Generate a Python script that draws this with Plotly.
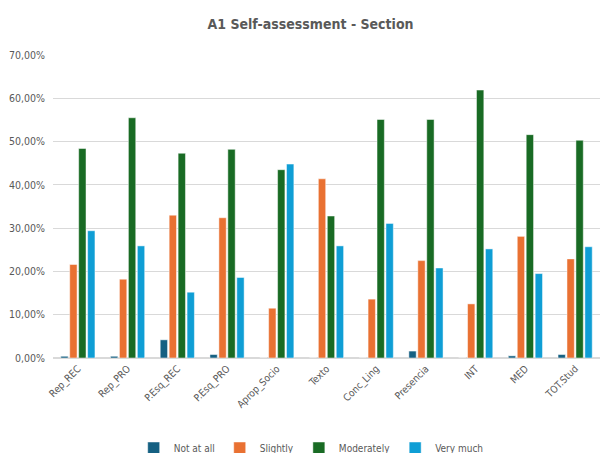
import plotly.graph_objects as go

categories = ["Rep_REC", "Rep_PRO", "P.Esq_REC", "P.Esq_PRO", "Aprop_Socio", "Texto",
              "Conc_Ling", "Presencia", "INT", "MED", "TOT.Stud"]
not_at_all = [0.004, 0.004, 0.042, 0.008, 0.0, 0.0, 0.0, 0.016, 0.0, 0.005, 0.008]
slightly = [0.216, 0.182, 0.330, 0.324, 0.115, 0.414, 0.136, 0.225, 0.125, 0.281, 0.229]
moderately = [0.484, 0.555, 0.473, 0.482, 0.435, 0.328, 0.551, 0.551, 0.619, 0.516, 0.503]
very_much = [0.294, 0.259, 0.152, 0.186, 0.448, 0.259, 0.311, 0.208, 0.252, 0.195, 0.257]

series = [("Not at all", not_at_all, "#156082"),
          ("Slightly", slightly, "#E97132"),
          ("Moderately", moderately, "#196B24"),
          ("Very much", very_much, "#0F9ED5")]

font_family = "DejaVu Sans Condensed, Liberation Sans Narrow, sans-serif"
grey = "#595959"

fig = go.Figure()
for name, vals, color in series:
    fig.add_trace(go.Bar(x=categories, y=vals, name=name,
                         marker=dict(color=color, line=dict(color="rgba(255,255,255,0.6)", width=0.8))))

fig.update_layout(
    width=603, height=453,
    paper_bgcolor="white", plot_bgcolor="white",
    separators=",.",
    barmode="group", bargap=0.28, bargroupgap=0.18,
    margin=dict(l=53, r=3, t=55, b=95, autoexpand=False),
    title=dict(text="<b>A1 Self-assessment - Section</b>", x=0.515, xanchor="center",
               y=0.947, yanchor="middle",
               font=dict(family=font_family, size=14, color=grey)),
    font=dict(family=font_family, size=10, color=grey),
    legend=dict(orientation="h", x=0.472, xanchor="center", y=-0.297, yanchor="middle",
                font=dict(size=10, color=grey), itemwidth=30, traceorder="normal",
                entrywidth=0, tracegroupgap=0),
    showlegend=True,
)
fig.update_yaxes(range=[0, 0.7], dtick=0.1, tickformat=".2%", showgrid=True,
                 gridcolor="#D9D9D9", gridwidth=1, zeroline=True, zerolinecolor="#D9D9D9",
                 ticks="", tickfont=dict(size=10.5, color=grey), showline=False,
                 automargin=False, ticklabelstandoff=7)
fig.update_xaxes(tickangle=-45, tickfont=dict(size=10, color=grey), showline=True,
                 linecolor="#D9D9D9", ticks="", automargin=False)

fig.write_html("out.html")
